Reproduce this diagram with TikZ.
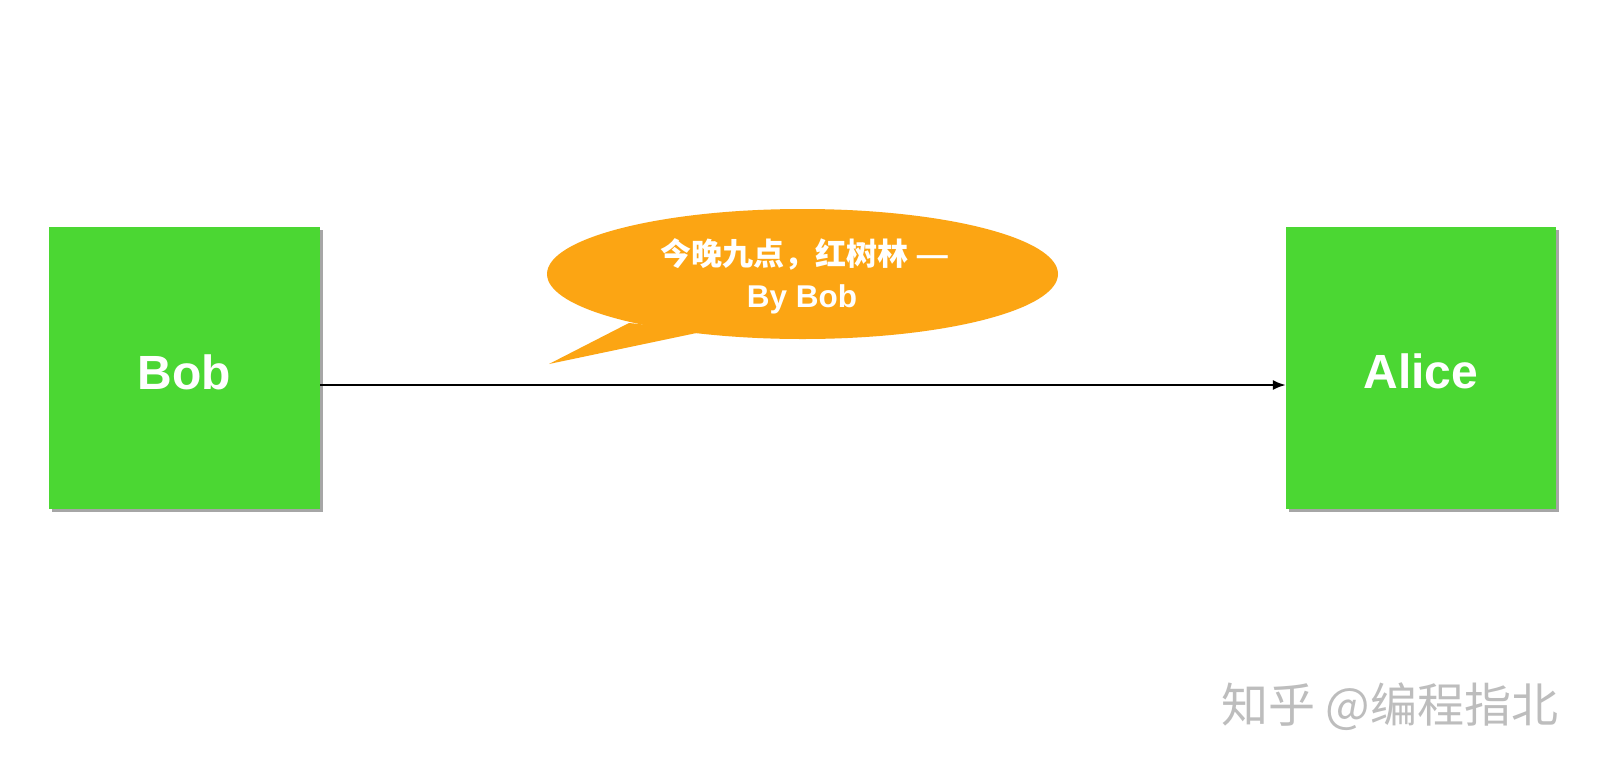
\documentclass[tikz,border=0pt]{standalone}
\usepackage{fontspec}
\setmainfont{Liberation Sans}
\newfontfamily\cjk{Noto Sans CJK SC}
\usetikzlibrary{arrows.meta,shapes.geometric}
\definecolor{boxgreen}{HTML}{4BD733}
\definecolor{bubbleorange}{HTML}{FCA513}
\definecolor{wmgray}{HTML}{BDBDBD}
\tikzset{
  actor/.style={fill=boxgreen, minimum width=271pt, minimum height=282pt, inner sep=0pt},
  actorlabel/.style={text=white, font=\fontsize{48}{50}\selectfont\bfseries},
  shadowbox/.style={fill=black!35},
  msgarrow/.style={line width=2pt, -{Latex[length=13pt,width=10pt]}},
}
\begin{document}
\begin{tikzpicture}[x=1pt,y=-1pt]
\useasboundingbox[fill=white] (0,0) rectangle (1604,774);
% shadows
\fill[shadowbox] (52,230) rectangle (323,512);
\fill[shadowbox] (1289,230) rectangle (1559,512);
\node[actor] (bob) at (184.5,368) {};
\node[actor, minimum width=270pt] (alice) at (1421,368) {};
\node[actorlabel] (bobt) at (184.5,372) {Bob};
\node[actorlabel] (alicet) at (1421,371) {Alice};
% callout
\node[ellipse, fill=bubbleorange, minimum width=511pt, minimum height=130pt, inner sep=0pt] (bubble) at (802.5,274) {};
\coordinate (tailA) at (629,323);
\coordinate (tip) at (549,364);
\coordinate (tailB) at (706,331);
\fill[bubbleorange] (tailA) -- (tip) -- (tailB) -- cycle;
\node[text=white, font=\fontsize{31}{35}\selectfont\bfseries] (line1) at (804,254) {\cjk 今晚九点，红树林\rmfamily\ —};
\node[text=white, font=\fontsize{31.5}{35}\selectfont\bfseries] (line2) at (802,299) {By Bob};
% arrow
\draw[msgarrow] ([yshift=-17pt]bob.east) -- ([yshift=-17pt]alice.west);
% watermark
\node[text=wmgray, font=\fontsize{47}{50}\selectfont\cjk] (wm) at (1390,707) {知乎 @编程指北};
\end{tikzpicture}
\end{document}
